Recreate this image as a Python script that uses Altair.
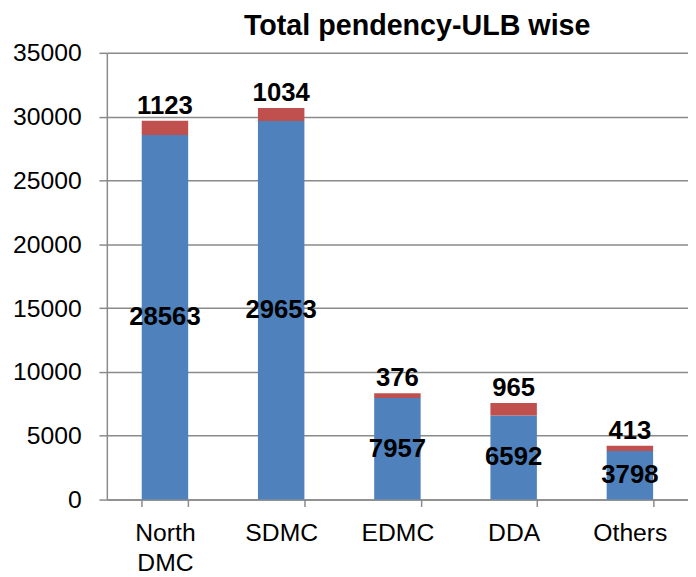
import altair as alt
import pandas as pd

categories = ["North DMC", "SDMC", "EDMC", "DDA", "Others"]
blue_values = [28563, 29653, 7957, 6592, 3798]
red_values = [1123, 1034, 376, 965, 413]
title_text = "Total pendency-ULB wise"

rows = []
for i, c in enumerate(categories):
    rows.append({"cat": c, "series": "A", "order": 0, "value": blue_values[i],
                 "start": 0, "end": blue_values[i], "mid": blue_values[i] / 2})
    rows.append({"cat": c, "series": "B", "order": 1, "value": red_values[i],
                 "start": blue_values[i], "end": blue_values[i] + red_values[i],
                 "mid": blue_values[i] + red_values[i]})
df = pd.DataFrame(rows)

FONT = "Liberation Sans"
GRID = "#8a8a8a"

x = alt.X("cat:N", sort=categories, title=None,
          scale=alt.Scale(paddingInner=0.6, paddingOuter=0.3),
          axis=alt.Axis(labelAngle=0, labelFont=FONT, labelFontSize=25, labelColor="#000000",
                        labelExpr="split(datum.label, ' ')", labelLineHeight=31,
                        labelPadding=14, tickSize=7, tickBand="extent", tickColor=GRID,
                        tickWidth=1.5, domainColor=GRID, domainWidth=1.5, grid=False))

bars = alt.Chart(df).mark_bar(size=47).encode(
    x=x,
    y=alt.Y("start:Q", title=None,
            scale=alt.Scale(domain=[0, 35000], nice=False),
            axis=alt.Axis(values=list(range(0, 35001, 5000)), labelFont=FONT, labelFontSize=25,
                          labelColor="#000000", labelPadding=18, tickSize=8, tickColor=GRID,
                          tickWidth=1.5, domainColor=GRID, domainWidth=1.5,
                          gridColor=GRID, gridWidth=1.5)),
    y2="end:Q",
    color=alt.Color("series:N", scale=alt.Scale(domain=["A", "B"], range=["#4F81BD", "#C0504D"]),
                    legend=None),
)

blue_text = alt.Chart(df).transform_filter(alt.datum.series == "A").mark_text(
    font=FONT, fontSize=26, fontWeight="bold", color="#000000", baseline="middle"
).encode(x=alt.X("cat:N", sort=categories), y="mid:Q", text="value:Q")

red_text = alt.Chart(df).transform_filter(alt.datum.series == "B").mark_text(
    font=FONT, fontSize=26, fontWeight="bold", color="#000000", baseline="alphabetic", dy=-7
).encode(x=alt.X("cat:N", sort=categories), y="mid:Q", text="value:Q")

title_mark = alt.Chart(pd.DataFrame({"t": [title_text]})).mark_text(
    font=FONT, fontSize=29, fontWeight="bold", color="#000000",
    baseline="alphabetic", align="center"
).encode(text="t:N", x=alt.value(314), y=alt.value(-18))

chart = alt.layer(bars, blue_text, red_text, title_mark).properties(
    width=588, height=452,
    autosize=alt.AutoSizeParams(type="none"),
    padding={"left": 100, "top": 42, "right": 0, "bottom": 77},
).configure_view(stroke=None).configure_axisY(format="d")

chart.save("out.html", embed_options={"renderer": "svg", "actions": False})
